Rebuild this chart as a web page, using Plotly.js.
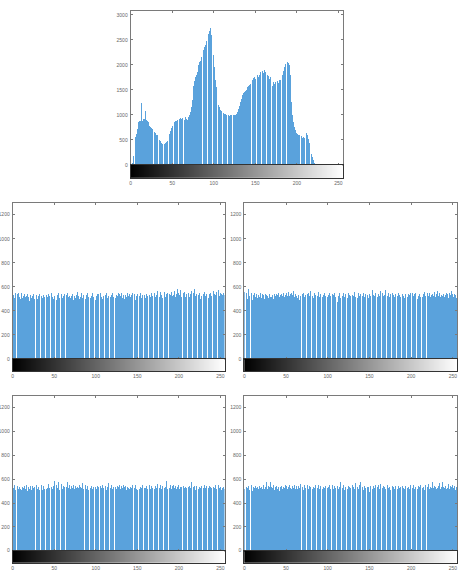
<!DOCTYPE html>
<html>
<head>
<meta charset="utf-8">
<script src="https://cdn.plot.ly/plotly-3.0.1.min.js"></script>
<style>html,body{margin:0;padding:0;background:#fff}#chart{width:463px;height:578px}</style>
</head>
<body>
<div id="chart"></div>
<script>
// gray levels 0..255 (histogram bin positions)
const grayLevels = Array.from({length: 256}, (_, i) => i);
const xTickVals = [0, 50, 100, 150, 200, 250];
const xTickText = ['0', '50', '100', '150', '200', '250'];
const topYTicks = [0, 500, 1000, 1500, 2000, 2500, 3000];
const encYTicks = [0, 200, 400, 600, 800, 1000, 1200];

// original image histogram
const histOriginal = [
0,0,40,180,330,480,560,620,720,860,1020,880,870,1230,880,920,
1170,910,1080,900,880,860,900,780,760,730,710,700,690,650,640,600,
590,560,520,500,470,440,420,415,410,420,430,450,470,520,560,620,
680,730,770,800,830,850,870,880,900,950,900,920,940,910,930,900,
920,890,950,920,900,940,960,1000,1050,1150,1300,1450,1580,1680,1750,1800,
1850,1900,2000,2050,2080,2150,2200,2280,2300,2350,2400,2480,2450,2560,2620,2680,
2730,2600,2650,2420,2200,1950,1700,1550,1380,1290,1200,1150,1100,1080,1060,1050,
1040,1020,1010,1000,990,1000,990,980,1000,990,1000,980,990,1000,990,1010,
1030,1060,1120,1180,1260,1320,1360,1400,1430,1450,1480,1500,1530,1560,1580,1600,
1620,1650,1680,1700,1740,1760,1720,1740,1780,1790,1760,1800,1850,1820,1860,1880,
1840,1900,1850,1830,1860,1800,1780,1720,1750,1600,1640,1580,1660,1620,1660,1600,
1650,1680,1640,1690,1700,1740,1780,1800,1880,1950,2020,2100,2090,2060,2040,2000,
1800,1550,1250,1000,860,760,700,660,640,620,600,590,580,560,570,540,
560,530,580,620,630,590,520,440,380,300,220,150,90,40,15,5,
0,0,0,0,0,0,0,0,0,0,0,0,0,0,0,0,
0,0,0,0,0,0,0,0,0,0,0,0,0,0,0,0];

const histEncA = [
520,535,510,548,525,503,540,552,515,498,530,545,507,521,539,512,
496,528,544,517,486,533,550,509,526,541,502,519,547,531,495,524,
538,511,549,527,504,536,518,543,497,529,512,540,523,506,534,551,
514,501,527,545,519,492,533,548,510,525,556,538,507,522,544,516,
499,531,547,513,528,542,505,520,537,494,526,549,511,535,558,521,
503,539,517,546,508,530,553,515,498,532,545,519,527,541,506,524,
550,512,536,529,493,521,544,538,510,533,547,518,502,528,541,515,
531,552,507,524,539,490,517,535,548,513,526,543,509,532,520,546,
504,537,523,550,511,529,541,498,534,519,546,527,508,540,515,531,
553,502,525,538,488,521,544,512,536,527,549,506,530,542,517,534,
511,539,524,551,508,533,519,545,528,497,537,553,514,530,565,522,
540,518,556,531,505,547,526,561,512,538,550,524,509,543,535,557,
520,546,532,568,514,541,582,527,549,536,575,519,553,530,545,561,
512,539,571,528,550,517,543,563,531,506,548,579,524,537,558,515,
533,552,496,528,546,510,538,557,521,544,532,562,509,541,553,526,
548,518,565,537,529,556,514,543,571,525,552,539,566,530,545,535];

const histEncB = [
560,505,525,545,498,582,520,538,512,550,493,530,547,515,528,541,
506,533,519,546,524,510,537,529,501,543,516,532,526,508,540,514,
527,519,535,502,544,523,511,538,529,549,516,533,507,541,525,552,
518,536,510,545,528,556,521,539,513,548,531,562,519,540,571,526,
505,533,490,524,547,512,539,553,518,532,545,509,537,550,522,566,
515,543,528,507,549,534,519,541,527,556,512,538,524,547,516,533,
548,522,576,539,514,531,545,526,559,519,540,533,551,512,537,528,
475,522,546,509,535,503,528,552,517,541,525,538,510,547,531,520,
543,514,536,527,555,518,545,532,509,548,524,539,515,533,528,551,
512,537,522,546,530,505,540,526,552,518,578,534,520,545,529,541,
515,538,524,563,531,509,547,522,536,575,518,540,528,553,513,544,
531,520,549,536,512,542,527,539,521,550,533,516,546,529,538,524,
511,543,527,555,518,537,529,548,514,532,545,520,539,553,526,541,
496,524,538,512,547,530,519,541,560,523,536,515,545,528,551,519,
534,510,542,527,557,518,539,530,564,521,545,513,536,549,525,541,
517,532,553,522,540,511,546,534,569,526,543,518,537,529,505,490];

const histEncC = [
505,525,550,512,538,498,544,520,531,516,548,509,535,523,541,514,
526,547,502,533,519,540,528,511,545,524,537,506,530,551,518,536,
512,542,527,554,509,539,521,533,548,515,530,563,524,541,510,537,
520,546,588,531,517,549,526,575,512,540,528,556,519,543,534,561,
510,537,576,522,548,531,515,542,527,553,519,536,545,524,538,529,
547,514,533,526,571,518,539,530,552,521,544,512,536,549,527,541,
516,533,525,550,538,519,544,531,560,515,539,526,548,522,536,529,
545,512,537,572,524,541,530,553,518,535,526,547,531,520,543,536,
523,548,514,539,528,552,519,536,545,508,531,524,540,517,533,526,
549,515,537,528,554,521,510,534,542,519,536,527,548,513,540,530,
525,545,518,536,529,551,514,539,523,546,532,520,541,528,557,517,
535,526,549,519,540,531,546,524,538,582,520,542,535,527,548,516,
539,530,553,522,544,515,537,528,549,521,536,532,546,518,540,527,
538,524,551,517,535,542,529,574,520,537,531,546,512,539,525,548,
519,533,527,545,514,538,529,552,523,541,534,588,522,544,537,528,
550,517,535,526,548,519,541,530,554,523,538,513,546,527,531,520];

const histEncD = [
520,578,510,535,528,545,512,540,517,550,503,533,525,541,508,529,
537,519,544,526,506,538,521,547,514,532,527,580,518,542,531,575,
513,536,524,549,509,537,528,543,519,531,502,534,526,545,517,538,
530,551,522,540,514,536,547,525,533,518,543,529,552,521,537,546,
515,539,527,563,520,544,531,512,548,524,536,529,553,518,541,533,
526,545,514,538,530,547,521,535,527,551,516,540,532,545,519,537,
528,546,512,541,525,534,549,520,537,531,555,518,543,527,539,524,
546,517,535,575,523,541,530,547,512,538,526,551,519,544,533,529,
540,523,550,535,514,566,527,545,531,519,548,578,524,539,533,512,
541,527,549,520,536,531,494,543,525,538,517,546,529,555,522,537,
533,548,515,562,528,580,523,544,536,519,541,530,553,526,538,512,
547,525,539,531,520,545,534,557,516,542,529,536,548,521,540,527,
515,544,533,550,525,538,519,547,530,542,526,553,514,536,529,545,
521,539,532,550,518,543,527,536,511,548,524,540,531,556,519,537,
528,545,574,522,539,533,515,547,526,541,568,520,536,552,575,531,
524,546,517,538,530,560,521,543,534,518,549,527,540,512,533,520];

const W = 463, H = 578;
// panel boxes in pixels: [left, right, mainTop, zeroLine, barBottom]
const panels = [
  {data: histOriginal, box: [130.7, 342.5, 10.5, 164.8, 178], ymax: 3085, yticks: topYTicks},
  {data: histEncA, box: [12.7, 224.5, 202.7, 359, 371], ymax: 1300, yticks: encYTicks},
  {data: histEncB, box: [244.3, 457, 202.7, 359, 371], ymax: 1300, yticks: encYTicks},
  {data: histEncC, box: [12.7, 224.5, 395.7, 550.7, 563], ymax: 1300, yticks: encYTicks},
  {data: histEncD, box: [244.3, 457, 395.7, 550.7, 563], ymax: 1300, yticks: encYTicks}
];

const traces = [];
const layout = {
  width: W, height: H,
  margin: {l: 0, r: 0, t: 0, b: 0},
  paper_bgcolor: '#fff', plot_bgcolor: '#fff',
  showlegend: false,
  bargap: 0,
  font: {family: 'Liberation Sans Narrow, Liberation Sans, Arial, sans-serif', size: 5, color: '#555'}
};
const lineCol = '#7a7a7a';
const tickFont = {family: 'Liberation Sans Narrow, Liberation Sans, Arial, sans-serif', size: 5, color: '#666'};

panels.forEach((p, k) => {
  const [l, r, t, z, b] = p.box;
  const xd = [l / W, r / W];
  const ydMain = [1 - z / H, 1 - t / H];
  const ydCb = [1 - b / H, 1 - z / H];
  const ixm = 2 * k + 1, ixc = 2 * k + 2;
  const xm = 'x' + ixm, ym = 'y' + ixm, xc = 'x' + ixc, yc = 'y' + ixc;
  const xmKey = 'xaxis' + ixm, ymKey = 'yaxis' + ixm, xcKey = 'xaxis' + ixc, ycKey = 'yaxis' + ixc;

  traces.push({
    type: 'bar', x: grayLevels, y: p.data, xaxis: xm, yaxis: ym,
    width: 0.85, marker: {color: '#5aa2dc', line: {width: 0}}, hoverinfo: 'skip'
  });
  traces.push({
    type: 'heatmap', x: grayLevels, y: [0.5], z: [grayLevels], xaxis: xc, yaxis: yc,
    colorscale: [[0, '#000000'], [1, '#ffffff']], zmin: 0, zmax: 255, showscale: false, hoverinfo: 'skip'
  });

  layout[xmKey] = {
    domain: xd, anchor: ym, range: [0, 255], showgrid: false, zeroline: false,
    showline: true, linecolor: lineCol, linewidth: 1, mirror: 'ticks',
    ticks: 'inside', ticklen: 2, tickcolor: lineCol, tickvals: xTickVals, showticklabels: false
  };
  layout[ymKey] = {
    domain: ydMain, anchor: xm, range: [0, p.ymax], showgrid: false, zeroline: false,
    showline: true, linecolor: lineCol, linewidth: 1, mirror: 'ticks',
    ticks: 'inside', ticklen: 2, tickcolor: lineCol, tickvals: p.yticks,
    tickfont: tickFont, ticklabelstandoff: 1
  };
  layout[xcKey] = {
    domain: xd, anchor: yc, range: [0, 255], showgrid: false, zeroline: false,
    showline: true, linecolor: '#333', linewidth: 1, mirror: true,
    ticks: '', tickvals: xTickVals, ticktext: xTickText, tickfont: tickFont
  };
  layout[ycKey] = {
    domain: ydCb, anchor: xc, range: [0, 1], showgrid: false, zeroline: false,
    showline: true, linecolor: '#333', linewidth: 1, mirror: true,
    ticks: '', showticklabels: false
  };
});

Plotly.newPlot('chart', traces, layout, {staticPlot: true, displayModeBar: false});
</script>
</body>
</html>
